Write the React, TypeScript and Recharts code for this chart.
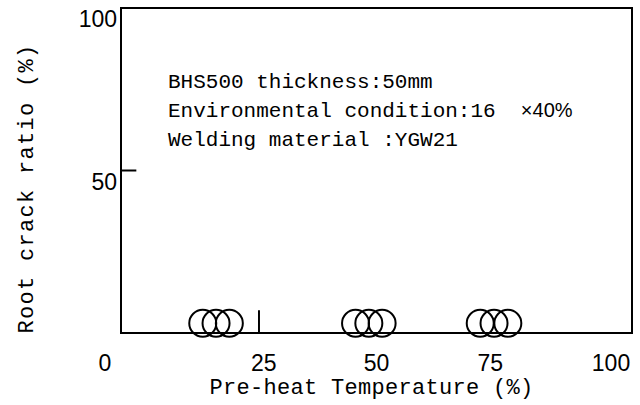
import * as React from 'react';
import { ScatterChart, Scatter, XAxis, YAxis, ReferenceArea, ReferenceLine, Label } from 'recharts';

// readings (pre-heat temperature vs root crack ratio)
const preheatTemps = [16, 18.6, 21.2, 45.9, 48.5, 51.1, 70.3, 73, 75.7];
const crackRatios = [3, 3, 3, 3, 3, 3, 3, 3, 3];
const xTicks = [0, 25, 50, 75, 100];
const yTicks = [50, 100];
const xMarkers = [27];
const yMarkers = [50];
const notes = [
    'BHS500 thickness:50mm',
    'Environmental condition:16  ',
    'Welding material :YGW21',
];
const noteSuffix = '×40%';

const points = preheatTemps.map((t, i) => ({ temp: t, ratio: crackRatios[i] }));

const monoFont = '"Liberation Mono", monospace';
const numFont = '"Liberation Sans", Arial, sans-serif';

// labels in the original sit a little off the true tick positions
const xTickShift: Record<number, number> = { 0: -16, 25: 15, 50: 0, 75: -14, 100: -21 };

function XTick(props: any) {
    const { x, y, payload } = props;
    return (
        <text x={x + (xTickShift[payload.value] ?? 0)} y={y + 30} textAnchor="middle"
              fontFamily={numFont} fontSize={23} fill="#000">
            {payload.value}
        </text>
    );
}

function YTick(props: any) {
    const { y, payload } = props;
    return (
        <text x={117} y={y + 19} textAnchor="end" fontFamily={numFont} fontSize={23} fill="#000">
            {payload.value}
        </text>
    );
}

function Ring(props: any) {
    const { cx, cy } = props;
    return <circle cx={cx} cy={cy} r={13.5} fill="none" stroke="#000" strokeWidth={2} />;
}

export default function App() {
    return (
        <div style={{ position: 'absolute', left: 0, top: 0, width: 640, height: 405, background: '#fff' }}>
            <ScatterChart width={640} height={405} margin={{ top: 8, right: 8, left: 0, bottom: 0 }}>
                <XAxis type="number" dataKey="temp" domain={[0, 100]} ticks={xTicks} height={72}
                       axisLine={false} tickLine={false} tick={<XTick />} interval={0}>
                    <Label content={({ viewBox }: any) => (
                        <text x={viewBox.x + viewBox.width / 2 - 5} y={viewBox.y + 61} textAnchor="middle"
                              fontFamily={monoFont} fontSize={22} letterSpacing={0.3} fill="#000">
                            Pre-heat Temperature (%)
                        </text>
                    )} />
                </XAxis>
                <YAxis type="number" dataKey="ratio" domain={[0, 100]} ticks={yTicks} width={121}
                       axisLine={false} tickLine={false} tick={<YTick />} interval={0}>
                    <Label content={({ viewBox }: any) => {
                        const cx = 27;
                        const cy = viewBox.y + viewBox.height / 2 + 18;
                        return (
                            <text x={cx} y={cy} textAnchor="middle" dominantBaseline="central"
                                  transform={`rotate(-90 ${cx} ${cy})`}
                                  fontFamily={monoFont} fontSize={22} letterSpacing={1.3} fill="#000">
                                Root crack ratio (%)
                            </text>
                        );
                    }} />
                </YAxis>
                <ReferenceArea x1={0} x2={100} y1={0} y2={100} fill="none" stroke="#000" strokeWidth={2} />
                {xMarkers.map(m => (
                    <ReferenceLine key={'x' + m} segment={[{ x: m, y: 0 }, { x: m, y: 7 }]}
                                   stroke="#000" strokeWidth={2} />
                ))}
                {yMarkers.map(m => (
                    <ReferenceLine key={'y' + m} segment={[{ x: 0, y: m }, { x: 3, y: m }]}
                                   stroke="#000" strokeWidth={2} />
                ))}
                <Scatter data={points} shape={<Ring />} isAnimationActive={false} />
            </ScatterChart>
            <svg width={640} height={405} style={{ position: 'absolute', left: 0, top: 0, pointerEvents: 'none' }}>
                {notes.map((n, i) => (
                    <text key={i} x={168} y={88 + i * 29} fontFamily={monoFont} fontSize={21}
                          fill="#000" xmlSpace="preserve" style={{ whiteSpace: 'pre' }}>
                        {n}
                        {i === 1 && <tspan fontFamily={numFont} fontSize={20}>{noteSuffix}</tspan>}
                    </text>
                ))}
            </svg>
        </div>
    );
}
